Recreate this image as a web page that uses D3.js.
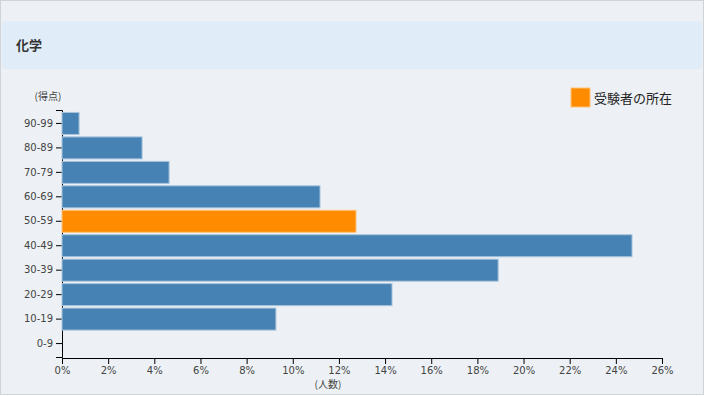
<!DOCTYPE html>
<html>
<head>
<meta charset="utf-8">
<script src="https://cdn.jsdelivr.net/npm/d3@7"></script>
<style>
  body { margin: 0; background: #fff; }
  text { font-family: "DejaVu Sans", sans-serif; }
</style>
</head>
<body>
<div id="chart"></div>
<script>
/* 化学 score distribution */

const categories = ["0-9", "10-19", "20-29", "30-39", "40-49", "50-59", "60-69", "70-79", "80-89", "90-99"];
const values = [0, 9.27, 14.3, 18.9, 24.7, 12.74, 11.18, 4.64, 3.47, 0.74]; // percent
const highlight = "50-59"; // where the examinee is
const xTicks = [0, 2, 4, 6, 8, 10, 12, 14, 16, 18, 20, 22, 24, 26];

const width = 704,
    height = 396,
    margin = ({ top: 110, right: 42, bottom: 38, left: 62 });

let svg = d3.select("#chart")
    .append("svg")
    .attr("width", width)
    .attr("height", height);

// panel + header
svg.append("rect")
    .attr("x", 0.5).attr("y", 0.5)
    .attr("width", width - 1).attr("height", 394)
    .attr("fill", "#edf1f5")
    .attr("stroke", "#cfd4d9");

svg.append("rect")
    .attr("x", 2).attr("y", 21)
    .attr("width", 700).attr("height", 48)
    .attr("rx", 2)
    .attr("fill", "#e0ecf8");

svg.append("text")
    .attr("x", 16).attr("y", 50)
    .style("font-family", "'Noto Sans CJK JP', sans-serif")
    .style("font-size", "13px")
    .style("font-weight", "bold")
    .style("fill", "#333")
    .text("化学");

const x = d3.scaleLinear()
    .domain([0, 26])
    .range([margin.left, width - margin.right]);

const y = d3.scaleBand()
    .domain(categories.slice().reverse())
    .range([margin.top, height - margin.bottom - 1])
    .padding(0.1);

const xAxis = g => g
    .attr("transform", `translate(0,${height - margin.bottom})`)
    .call(d3.axisBottom(x).tickValues(xTicks).tickFormat(d => d + "%").tickSizeOuter(0));

const yAxis = g => g
    .attr("transform", `translate(${margin.left},0)`)
    .call(d3.axisLeft(y).tickSizeOuter(6));

svg.append("g").call(xAxis);
svg.append("g").call(yAxis);

svg.selectAll(".tick text")
    .style("font-family", "'DejaVu Sans', sans-serif")
    .style("font-size", "10px")
    .style("fill", "#444");

let bar = svg.selectAll(".bar")
    .data(categories.map((c, i) => ({ cat: c, value: values[i] })))
    .join("g")
    .attr("class", "bar");

bar.filter(d => d.value > 0).append("rect")
    .attr("x", x(0))
    .attr("y", d => y(d.cat))
    .attr("width", d => x(d.value) - x(0))
    .attr("height", y.bandwidth())
    .attr("fill", d => d.cat === highlight ? "#ff8c00" : "#4682b4")
    .attr("stroke", d => d.cat === highlight ? "#ffc27a" : "#a9c4dc")
    .attr("stroke-width", 1);

// axis titles
svg.append("text")
    .attr("x", 48).attr("y", 100)
    .attr("text-anchor", "middle")
    .style("font-family", "'Noto Sans CJK JP', sans-serif")
    .style("font-size", "10px")
    .style("fill", "#444")
    .text("(得点)");

svg.append("text")
    .attr("x", 328).attr("y", 388)
    .attr("text-anchor", "middle")
    .style("font-family", "'Noto Sans CJK JP', sans-serif")
    .style("font-size", "10px")
    .style("fill", "#444")
    .text("(人数)");

// legend
svg.append("rect")
    .attr("x", 571).attr("y", 88)
    .attr("width", 19).attr("height", 19)
    .attr("fill", "#ff8c00")
    .attr("stroke", "#ffc27a");

svg.append("text")
    .attr("x", 594).attr("y", 103)
    .style("font-family", "'Noto Sans CJK JP', sans-serif")
    .style("font-size", "13px")
    .style("fill", "#222")
    .text("受験者の所在");
</script>
</body>
</html>
